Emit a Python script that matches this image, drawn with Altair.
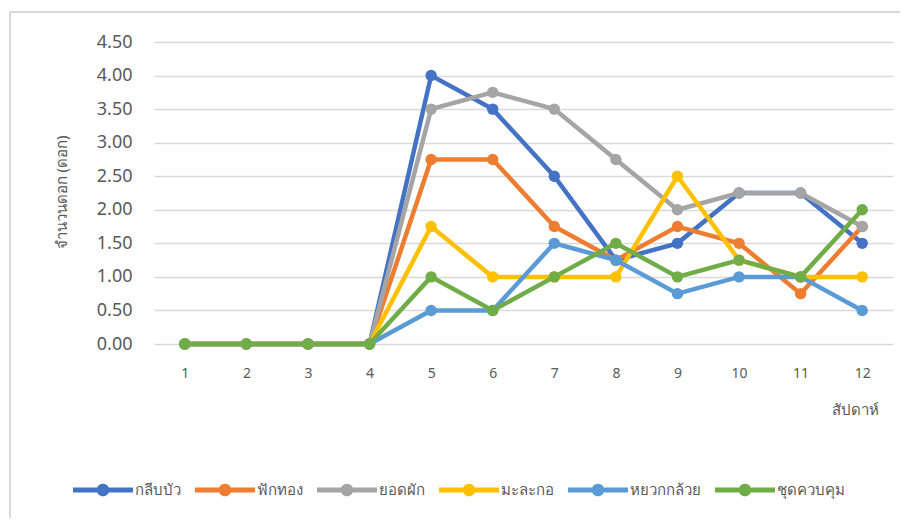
import altair as alt
import pandas as pd

weeks = list(range(1, 13))
series_names = ["กลีบบัว", "ฟักทอง", "ยอดผัก", "มะละกอ", "หยวกกล้วย", "ชุดควบคุม"]
colors = ["#4472C4", "#ED7D31", "#A5A5A5", "#FFC000", "#5B9BD5", "#70AD47"]

lotus = [0, 0, 0, 0, 4.0, 3.5, 2.5, 1.25, 1.5, 2.25, 2.25, 1.5]
pumpkin = [0, 0, 0, 0, 2.75, 2.75, 1.75, 1.25, 1.75, 1.5, 0.75, 1.75]
veg_top = [0, 0, 0, 0, 3.5, 3.75, 3.5, 2.75, 2.0, 2.25, 2.25, 1.75]
papaya = [0, 0, 0, 0, 1.75, 1.0, 1.0, 1.0, 2.5, 1.25, 1.0, 1.0]
banana = [0, 0, 0, 0, 0.5, 0.5, 1.5, 1.25, 0.75, 1.0, 1.0, 0.5]
control = [0, 0, 0, 0, 1.0, 0.5, 1.0, 1.5, 1.0, 1.25, 1.0, 2.0]

y_ticks = [0, 0.5, 1.0, 1.5, 2.0, 2.5, 3.0, 3.5, 4.0, 4.5]

all_values = [lotus, pumpkin, veg_top, papaya, banana, control]
rows = []
for i, (name, vals) in enumerate(zip(series_names, all_values)):
    for w, v in zip(weeks, vals):
        rows.append({"week": w, "value": v, "series": name, "order": i})
df = pd.DataFrame(rows)

FONT = "Noto Sans, Tahoma, sans-serif"
GRID = "#D9D9D9"
TXT = "#595959"

sym = ("M-1,-0.08L-0.2,-0.08L-0.2,0.08L-1,0.08Z "
       "M0.2,-0.08L1,-0.08L1,0.08L0.2,0.08Z "
       "M-0.21,0A0.21,0.21 0 1,1 0.21,0A0.21,0.21 0 1,1 -0.21,0Z")

legend = alt.Legend(
    title=None, orient="none", direction="horizontal",
    legendX=-81, legendY=418,
    symbolType=sym, symbolSize=3600, symbolStrokeWidth=0,
    labelFont=FONT, labelFontSize=15, labelColor=TXT,
    columnPadding=14, labelOffset=2, columns=6,
)

color = alt.Color("series:N", scale=alt.Scale(domain=series_names, range=colors),
                  sort=series_names, legend=legend)

x = alt.X("week:O", sort=weeks,
          scale=alt.Scale(type="point", padding=0.5),
          axis=alt.Axis(title="สัปดาห์", labelAngle=0, grid=False, domain=False, ticks=False,
                        labelPadding=22, labelFont=FONT, labelFontSize=14, labelColor=TXT,
                        titleFont=FONT, titleFontSize=15, titleColor=TXT, titleFontWeight="normal",
                        titleAnchor="end", titleAlign="right", titleX=724, titleY=70,
                        titleBaseline="alphabetic"))
y = alt.Y("value:Q", scale=alt.Scale(domain=[0, 4.5], nice=False),
          axis=alt.Axis(title="จำนวนดอก (ดอก)", values=y_ticks, format=".2f",
                        grid=True, gridColor=GRID, gridWidth=1.5, domain=False, ticks=False,
                        labelPadding=22, labelFont=FONT, labelFontSize=18, labelColor=TXT,
                        titleFont=FONT, titleFontSize=15, titleColor=TXT, titleFontWeight="normal",
                        titleX=-85, titleY=150, titleAngle=-90))

lines = alt.Chart(df).mark_line(strokeWidth=4.5).encode(
    x=x, y=y, color=color, detail="series:N", order="week:O")
points = alt.Chart(df).mark_point(filled=True, size=130, opacity=1).encode(
    x=x, y=y, color=color, order="order:Q")

border_top = alt.Chart(df).mark_rule(color=GRID, strokeWidth=1.5).encode(
    x=alt.value(-144), x2=alt.value(760), y=alt.value(-30))
border_left = alt.Chart(df).mark_rule(color=GRID, strokeWidth=1.5).encode(
    x=alt.value(-144), y=alt.value(-30), y2=alt.value(490))

chart = alt.layer(border_top, border_left, lines, points).properties(
    width=739, height=302,
    autosize=alt.AutoSizeParams(type="none"),
    padding={"left": 146, "top": 34, "right": 7, "bottom": 174},
    background="white",
).configure_view(stroke=None)

chart.save("out.html", embed_options={"renderer": "svg", "actions": False})
